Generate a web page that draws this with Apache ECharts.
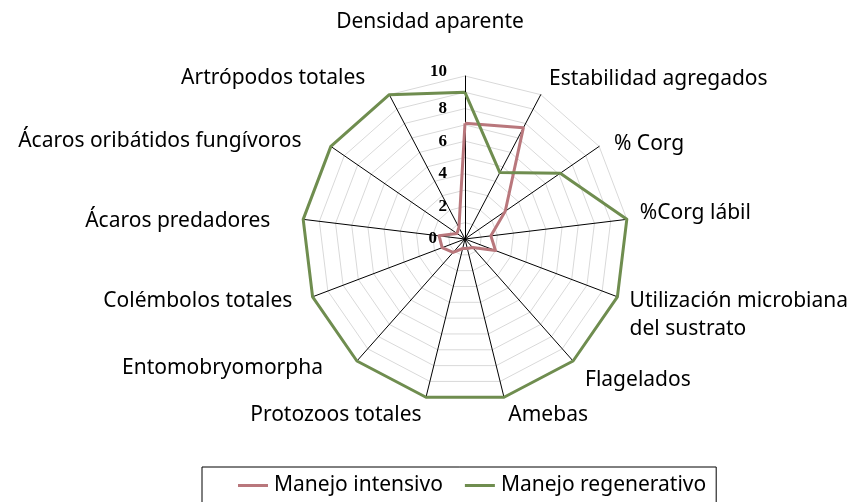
<!DOCTYPE html>
<html>
<head>
<meta charset="utf-8">
<script src="https://cdn.jsdelivr.net/npm/echarts@6/dist/echarts.min.js"></script>
<style>
  html, body { margin: 0; padding: 0; background: #fff; }
  #chart { width: 851px; height: 502px; }
</style>
</head>
<body>
<div id="chart"></div>
<script>
  // ejes en orden horario desde arriba
  const indicadores = ['Densidad aparente', 'Estabilidad agregados', '% Corg', '%Corg lábil',
    'Utilización microbiana\ndel sustrato', 'Flagelados', 'Amebas', 'Protozoos totales',
    'Entomobryomorpha', 'Colémbolos totales', 'Ácaros predadores',
    'Ácaros oribátidos fungívoros', 'Artrópodos totales'];
  const intensivo = [7.1, 7.7, 3.0, 1.6, 2.0, 0.7, 0.6, 0.6, 1.1, 1.5, 1.6, 0.6, 0.8];
  const regenerativo = [9.0, 4.6, 7.1, 10, 10, 10, 10, 10, 10, 10, 10, 10, 10];
  const escalaMax = 10;
  const ticks = ['0', '2', '4', '6', '8', '10'];

  // posicion de cada nombre: [nameGap, padding, verticalAlign, lineHeight, prefijo]
  const nameLayout = [
    [40, [0, 70, 0, 0], null, 28, ''],
    [18, [0, 0, 0, 0], null, 28, ''],
    [18, [0, 0, 0, 0], 'top', 15, ''],
    [13, [0, 0, 0, 0], 'bottom', 10, ''],
    [13, [0, 0, 0, 0], null, 28, '\n'],
    [18, [0, 0, 0, 0], 'top', 12, ''],
    [18, [0, 10, 0, 0], null, 28, ''],
    [18, [0, 0, 0, 0], null, 28, ''],
    [9, [0, 28, 0, 0], null, 28, ''],
    [12, [0, 9, 0, 0], null, 28, ''],
    [30, [0, 3, 0, 0], 'top', 10, ''],
    [9, [0, 22, 0, 0], null, 28, ''],
    [19, [0, 15, 0, 0], null, 28, '']
  ];

  const font = 'Noto Sans';
  // echarts dibuja el radar en sentido antihorario -> invertir todo menos el primero
  const orden = [0].concat(indicadores.map((d, i) => i).slice(1).reverse());

  const indicator = orden.map((i, k) => {
    const l = nameLayout[i];
    const ts = { padding: l[1], lineHeight: l[3] };
    if (l[2]) ts.verticalAlign = l[2];
    return {
      name: l[4] + indicadores[i],
      max: escalaMax,
      min: 0,
      nameGap: l[0],
      nameTextStyle: ts,
      axisLabel: { show: k === 0 }
    };
  });

  const tickFont = { fontFamily: 'Liberation Serif', fontWeight: 'bold', fontSize: 17, color: '#000' };

  const chart = echarts.init(document.getElementById('chart'));
  chart.setOption({
    animation: false,
    color: ['#B9777C', '#6F8D4F'],
    legend: {
      left: 202,
      top: 467,
      icon: 'rect',
      itemWidth: 30,
      itemHeight: 3,
      itemGap: 22,
      padding: [8, 10, 10, 36],
      borderColor: '#000',
      borderWidth: 1,
      borderRadius: 0,
      textStyle: { fontFamily: font, fontSize: 21, color: '#000', padding: [0, 0, 0, 1] }
    },
    radar: {
      center: [465, 239],
      radius: 163,
      startAngle: 90,
      shape: 'polygon',
      splitNumber: 10,
      axisName: { color: '#000', fontFamily: font, fontSize: 21, lineHeight: 28 },
      axisLine: { lineStyle: { color: '#000', width: 1 } },
      splitLine: { lineStyle: { color: '#d9d9d9', width: 1 } },
      splitArea: { show: false },
      axisTick: { show: false },
      axisLabel: Object.assign({
        show: true,
        margin: 18,
        formatter: v => {
          const s = String(v);
          if (ticks.indexOf(s) < 0) return '';
          if (s === '0') return '{cero|0}';
          if (s === '10') return '{diez|10}';
          return s;
        },
        rich: {
          cero: Object.assign({ padding: [0, 10, 0, 0] }, tickFont),
          diez: Object.assign({ padding: [0, 0, 8, 0] }, tickFont)
        }
      }, tickFont),
      indicator: indicator
    },
    series: [{
      type: 'radar',
      symbol: 'none',
      lineStyle: { width: 3 },
      data: [
        { name: 'Manejo intensivo', value: orden.map(i => intensivo[i]) },
        { name: 'Manejo regenerativo', value: orden.map(i => regenerativo[i]) }
      ]
    }]
  });
</script>
</body>
</html>
